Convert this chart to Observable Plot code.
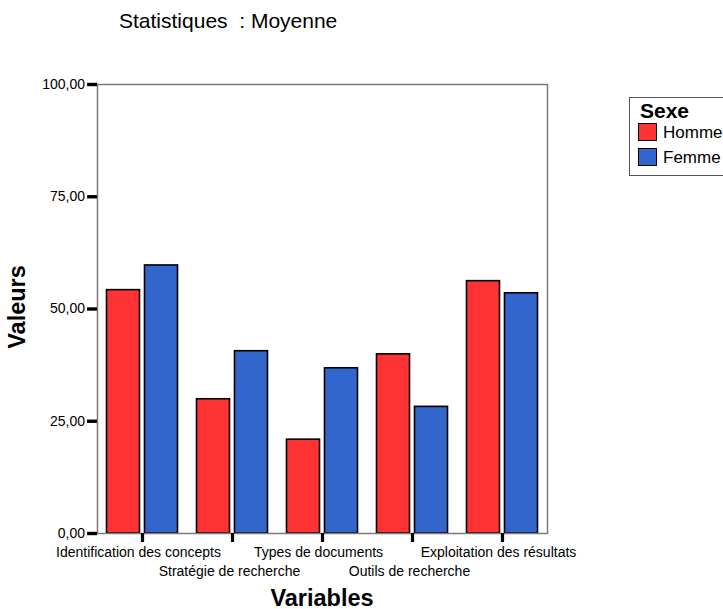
<!DOCTYPE html>
<html>
<head>
<meta charset="utf-8">
<script src="https://cdn.jsdelivr.net/npm/d3@7"></script>
<script src="https://cdn.jsdelivr.net/npm/@observablehq/plot@0.6"></script>
<style>
  html, body { margin: 0; padding: 0; background: #fff; }
  #wrap { position: relative; width: 723px; height: 609px; overflow: hidden; font-family: "Liberation Sans", Arial, sans-serif; color: #000; }
  #wrap svg { position: absolute; left: 0; top: 0; }
  .ov { position: absolute; line-height: 1em; white-space: pre; }
  #legend { position: absolute; left: 629px; top: 97px; width: 130px; height: 79px; border: 1.5px solid #555; box-sizing: border-box; }
</style>
</head>
<body>
<div id="wrap"></div>
<script>
const categories = ["Identification des concepts", "Stratégie de recherche", "Types de documents", "Outils de recherche", "Exploitation des résultats"];
const sexes = ["Homme", "Femme"];
const hommeValues = [54.2, 29.9, 20.9, 39.9, 56.2];
const femmeValues = [59.7, 40.6, 36.8, 28.2, 53.5];
const yTicks = [0, 25, 50, 75, 100];
const sexColors = ["#FF3333", "#3366CC"];
const titleText = "Statistiques  : Moyenne";
const xTitle = "Variables";
const yTitle = "Valeurs";
const legendTitle = "Sexe";

const data = categories.flatMap((c, i) => [
  {variable: c, sexe: sexes[0], valeur: hommeValues[i]},
  {variable: c, sexe: sexes[1], valeur: femmeValues[i]}
]);
const row1 = categories.filter((d, i) => i % 2 === 0);
const row2 = categories.filter((d, i) => i % 2 === 1);

const chart = Plot.plot({
  width: 723,
  height: 609,
  marginLeft: 97,
  marginRight: 176,
  marginTop: 84,
  marginBottom: 76,
  style: {fontFamily: "'Liberation Sans', Arial, sans-serif", background: "transparent", color: "black"},
  x: {domain: categories, padding: 0, label: null},
  y: {domain: [0, 100], label: null},
  color: {domain: sexes, range: sexColors},
  marks: [
    Plot.barY(data.filter(d => d.sexe === sexes[0]), {x: "variable", y: "valeur", fill: "sexe", stroke: "black", strokeWidth: 1.6, insetLeft: 9.5, insetRight: 47.5}),
    Plot.barY(data.filter(d => d.sexe === sexes[1]), {x: "variable", y: "valeur", fill: "sexe", stroke: "black", strokeWidth: 1.6, insetLeft: 47.5, insetRight: 9.5}),
    Plot.frame({stroke: "#7a7a7a", strokeWidth: 1.5}),
    Plot.axisY({ticks: yTicks, tickSize: 10, tickPadding: 2.5, strokeWidth: 3.4, stroke: "black", fontSize: 14, tickFormat: d => d.toFixed(2).replace(".", ","), label: null}),
    Plot.axisX({tickSize: 9, strokeWidth: 3.2, stroke: "black", tickFormat: () => "", label: null}),
    Plot.axisX({ticks: row1, tickSize: 0, tickPadding: 14, fontSize: 14, dx: -4, label: null}),
    Plot.axisX({ticks: row2, tickSize: 0, tickPadding: 33, fontSize: 14, dx: -3, label: null})
  ]
});

const wrap = document.getElementById("wrap");
wrap.appendChild(chart);

function addText(txt, css) {
  const d = document.createElement("div");
  d.className = "ov";
  d.textContent = txt;
  Object.assign(d.style, css);
  wrap.appendChild(d);
  return d;
}

addText(titleText, {left: "119px", top: "10px", fontSize: "21px"});
addText(xTitle, {left: "97px", width: "450px", textAlign: "center", top: "588.5px", fontSize: "23.5px", fontWeight: "bold", lineHeight: "0.8em"});
addText(yTitle, {left: "18px", top: "307px", fontSize: "23.5px", fontWeight: "bold", transform: "translate(-50%, -50%) rotate(-90deg)"});

const legend = document.createElement("div");
legend.id = "legend";
wrap.appendChild(legend);
addText(legendTitle, {left: "640px", top: "99.5px", fontSize: "21px", fontWeight: "bold"});
sexes.forEach((s, i) => {
  const sw = document.createElement("div");
  Object.assign(sw.style, {position: "absolute", left: "638px", top: (123 + 25 * i) + "px", width: "19px", height: "18px", background: sexColors[i], border: "1.5px solid #000", boxSizing: "border-box"});
  wrap.appendChild(sw);
  addText(s, {left: "663px", top: (123.6 + 25 * i) + "px", fontSize: "17px"});
});
</script>
</body>
</html>
